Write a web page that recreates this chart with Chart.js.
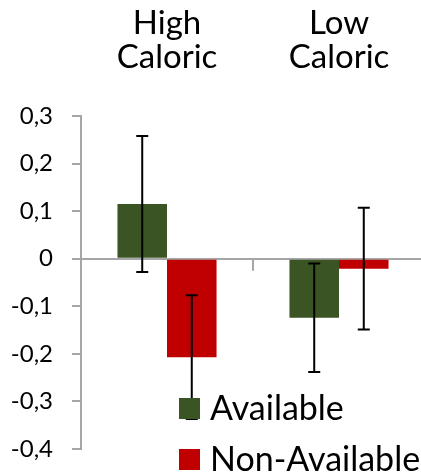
<!DOCTYPE html>
<html>
<head>
<meta charset="utf-8">
<script src="https://cdn.jsdelivr.net/npm/chart.js@4"></script>
<style>
  html, body { margin: 0; padding: 0; background: #fff; overflow: hidden; }
  #wrap { width: 421px; height: 472px; overflow: hidden; }
</style>
</head>
<body>
<div id="wrap"><canvas id="g_calories" width="425" height="472"></canvas></div>
<script>
// categories (labels du haut, sur deux lignes)
const categories = [["High", "Caloric"], ["Low", "Caloric"]];
// séries
const seriesNames = ["Available", "Non-Available"];
const available = [0.115, -0.124];
const availableErr = [0.143, 0.114];
const nonAvailable = [-0.207, -0.021];
const nonAvailableErr = [0.13, 0.128];
// graduations de l'axe Y
const yTicks = [-0.4, -0.3, -0.2, -0.1, 0, 0.1, 0.2, 0.3];

const FONT = "Lato, 'Open Sans', sans-serif";
const GREY = "#a6a6a6";

//plugin : barres d'erreur
const errorBars = {
    id: "errorBars",
    afterDatasetsDraw(chart) {
        const ctx = chart.ctx;
        const y = chart.scales.y;
        ctx.save();
        ctx.strokeStyle = "#000";
        ctx.lineWidth = 2;
        chart.data.datasets.forEach((ds, i) => {
            const meta = chart.getDatasetMeta(i);
            meta.data.forEach((bar, j) => {
                const v = ds.data[j];
                const e = ds.errors[j];
                const top = y.getPixelForValue(v + e);
                const bot = y.getPixelForValue(v - e);
                ctx.beginPath();
                ctx.moveTo(bar.x, top);
                ctx.lineTo(bar.x, bot);
                ctx.moveTo(bar.x - 6, top);
                ctx.lineTo(bar.x + 6, top);
                ctx.moveTo(bar.x - 6, bot);
                ctx.lineTo(bar.x + 6, bot);
                ctx.stroke();
            });
        });
        ctx.restore();
    }
};

//plugin : petites graduations de l'axe des catégories (sous la ligne du zéro)
const catTicks = {
    id: "catTicks",
    afterDatasetsDraw(chart) {
        const ctx = chart.ctx;
        const x = chart.scales.x;
        const y0 = chart.scales.y.getPixelForValue(0);
        ctx.save();
        ctx.strokeStyle = GREY;
        ctx.lineWidth = 2;
        for (let i = 1; i <= categories.length; i++) {
            const px = i < categories.length
                ? (x.getPixelForValue(i - 1) + x.getPixelForValue(i)) / 2
                : chart.chartArea.right;
            ctx.beginPath();
            ctx.moveTo(px, y0);
            ctx.lineTo(px, y0 + 12);
            ctx.stroke();
        }
        ctx.restore();
    }
};

//plugin : légende dans la zone du graphe
const innerLegend = {
    id: "innerLegend",
    afterDraw(chart) {
        const ctx = chart.ctx;
        const area = chart.chartArea;
        ctx.save();
        ctx.font = "34px " + FONT;
        ctx.textBaseline = "middle";
        chart.data.datasets.forEach((ds, i) => {
            const cy = area.bottom - 41 + i * 51;
            ctx.fillStyle = ds.backgroundColor;
            ctx.fillRect(179, cy - 10, 21, 21);
            ctx.fillStyle = "#000";
            ctx.fillText(ds.label, 210, cy + 1);
        });
        ctx.restore();
    }
};

const ctx = document.getElementById("g_calories").getContext("2d");
const config = {
    type: "bar",
    data: {
        labels: categories,
        datasets: [{
            label: seriesNames[0],
            data: available,
            errors: availableErr,
            backgroundColor: "#3a5424"
        }, {
            label: seriesNames[1],
            data: nonAvailable,
            errors: nonAvailableErr,
            backgroundColor: "#c00000"
        }]
    },
    options: {
        responsive: false,
        devicePixelRatio: 1,
        animation: false,
        categoryPercentage: 0.576,
        barPercentage: 1,
        layout: { padding: { top: 0, left: 0, right: 0, bottom: 23 } },
        plugins: {
            legend: { display: false },
            tooltip: { enabled: false }
        },
        scales: {
            x: {
                position: "top",
                grid: { display: false, drawTicks: false, tickLength: 0 },
                border: { display: false },
                ticks: {
                    color: "#000",
                    font: { family: FONT, size: 33, lineHeight: 1.05 },
                    padding: 41,
                    maxRotation: 0
                },
                afterFit(scale) {
                    scale.height = 116;
                    scale.paddingLeft = 0;
                    scale.paddingRight = 0;
                }
            },
            y: {
                min: -0.4,
                max: 0.3,
                afterBuildTicks(scale) {
                    scale.ticks = yTicks.map(v => ({ value: v }));
                },
                afterFit(scale) {
                    scale.width = 81;
                    scale.paddingTop = 0;
                    scale.paddingBottom = 0;
                },
                grid: {
                    color: c => (c.tick && c.tick.value === 0) ? GREY : "rgba(0,0,0,0)",
                    lineWidth: 2,
                    tickColor: GREY,
                    tickWidth: 2,
                    tickLength: 9
                },
                border: { display: true, color: GREY, width: 2 },
                ticks: {
                    color: "#000",
                    font: { family: FONT, size: 24 },
                    padding: 19,
                    callback: v => String(Math.round(v * 10) / 10).replace(".", ",")
                }
            }
        }
    },
    plugins: [errorBars, catTicks, innerLegend]
};
const chartCal = new Chart(ctx, config);
</script>
</body>
</html>
